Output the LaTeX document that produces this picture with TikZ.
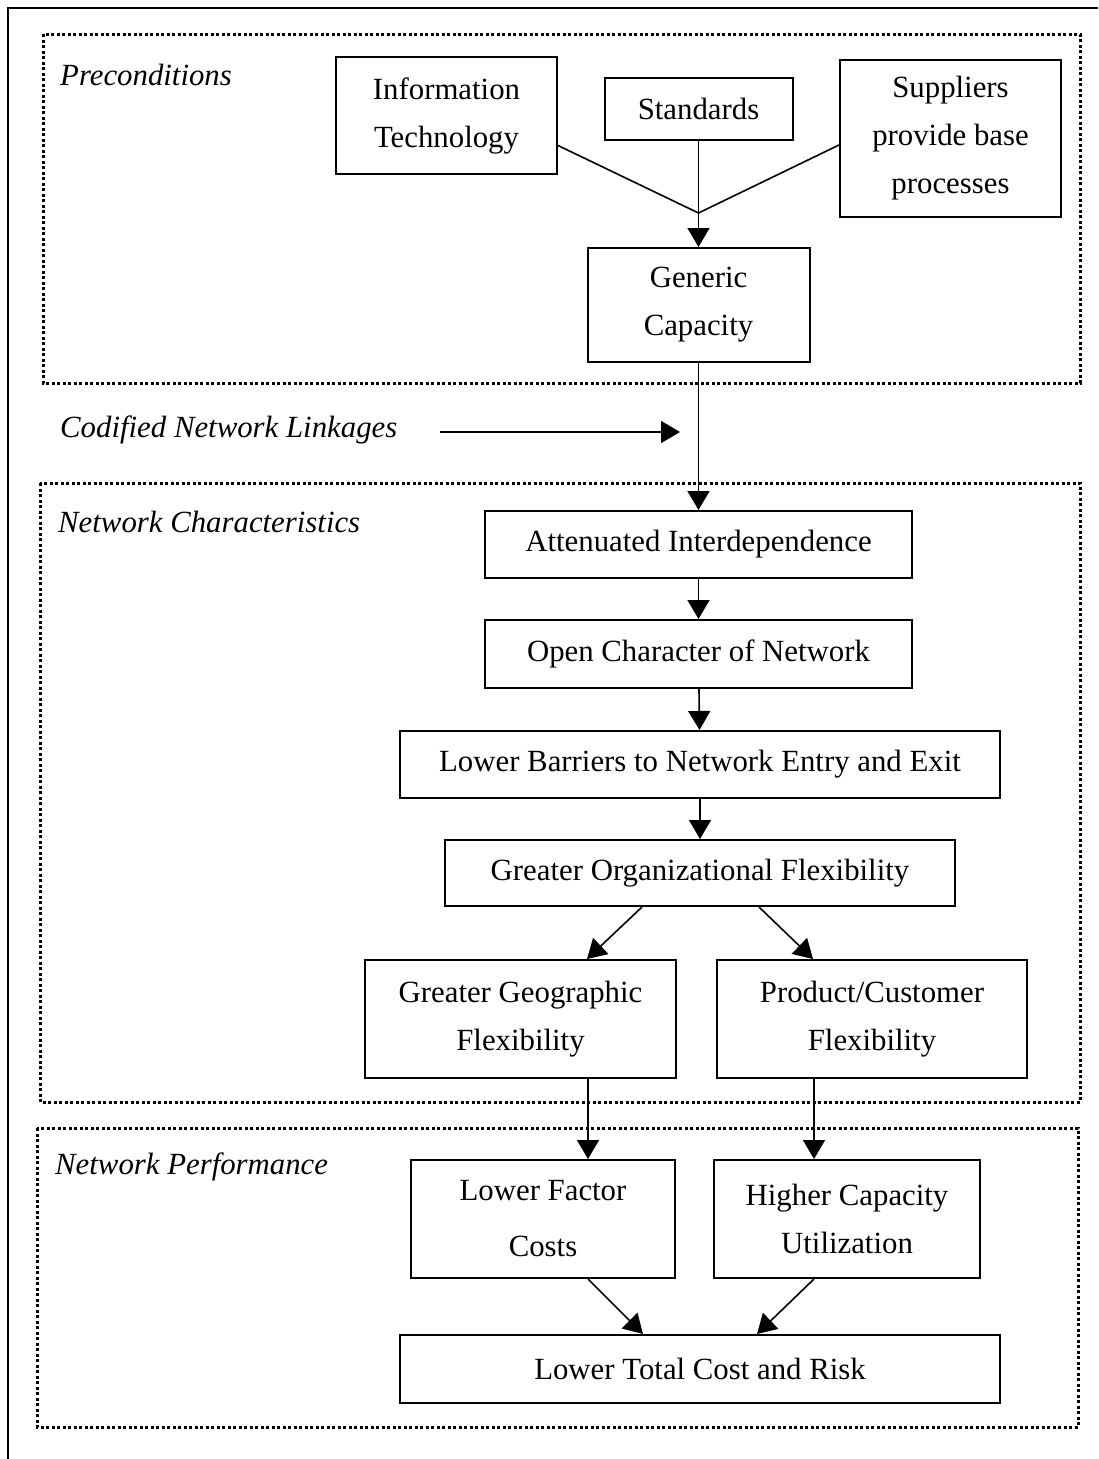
\documentclass[tikz,border=0pt]{standalone}
\usepackage{fontspec}
\setmainfont{Liberation Serif}
\usetikzlibrary{arrows.meta,calc}

\begin{document}
\begin{tikzpicture}
  [x=1pt,y=-1pt,
   every node/.style={font=\fontsize{30.8}{48}\selectfont},
   box/.style={draw,line width=2pt,align=center,inner sep=0pt},
   lbl/.style={font=\fontsize{30.8}{48}\selectfont\itshape,anchor=west,inner sep=0pt},
   dotbox/.style={line width=3pt,dash pattern=on 3pt off 2.5pt},
   ln/.style={line width=1.6pt},
   arr/.style={line width=1.6pt,-{Triangle[length=19pt,width=22pt]}}]
  \useasboundingbox (0,0) rectangle (1098,1459);

  % frame and groups
  \draw[line width=2pt] (1098,8) -- (8,8) -- (8,1459);
  \draw[dotbox] (43,34) rectangle (1080,383);
  \draw[dotbox] (40,483) rectangle (1080,1102);
  \draw[dotbox] (37,1128) rectangle (1078,1427);

  \node[lbl] (pre) at (60,75) {Preconditions};
  \node[lbl] (nch) at (58,522) {Network Characteristics};
  \node[lbl] (npf) at (55,1167) {Network Performance};
  \node[lbl] (cnl) at (60,430) {Codified Network Linkages};

  % preconditions
  \node[box,minimum width=221pt,minimum height=117pt] (it) at (446.5,115.5) {Information\\Technology};
  \node[box,minimum width=188pt,minimum height=62pt] (std) at (698.5,109) {Standards};
  \node[box,minimum width=221pt,minimum height=157pt] (sup) at (950.5,138) {Suppliers\\provide base\\processes};
  \node[box,minimum width=222pt,minimum height=114pt] (gc) at (698.5,305) {Generic\\Capacity};
  \coordinate (j) at (698.5,213);

  % characteristics
  \node[box,minimum width=427pt,minimum height=67pt] (ai) at (698.5,544.5) {Attenuated Interdependence};
  \node[box,minimum width=427pt,minimum height=68pt] (oc) at (698.5,654) {Open Character of Network};
  \node[box,minimum width=600pt,minimum height=67pt] (lb) at (700,764.5) {Lower Barriers to Network Entry and Exit};
  \node[box,minimum width=510pt,minimum height=66pt] (go) at (700,873) {Greater Organizational Flexibility};
  \node[box,minimum width=311pt,minimum height=118pt] (gg) at (520.5,1019) {Greater Geographic\\Flexibility};
  \node[box,minimum width=310pt,minimum height=118pt] (pc) at (872,1019) {Product/Customer\\Flexibility};

  % performance
  \node[box,minimum width=264pt,minimum height=118pt] (lf) at (543,1219) {Lower Factor\\[8pt]Costs};
  \node[box,minimum width=266pt,minimum height=118pt] (hc) at (847,1219) {Higher Capacity\\Utilization};
  \node[box,minimum width=600pt,minimum height=68pt] (lt) at (700,1369) {Lower Total Cost and Risk};

  % connectors
  \draw[ln] ($(it.east)+(0,30)$) -- (j);
  \draw[ln] ($(sup.west)+(0,7)$) -- (j);
  \draw[ln] (std.south) -- (j);
  \draw[arr] (j) -- (gc.north);
  \coordinate (cnlend) at (680,432);
  \draw[arr] ($(cnl.east)+(43,2)$) -- (cnlend);
  \draw[arr] (gc.south) -- (ai.north);
  \draw[arr] (ai) -- (oc);
  \draw[arr] (oc) -- (lb);
  \draw[arr] (lb) -- (go);
  \draw[arr] ($(go.south)+(-58,0)$) -- ($(gg.north)+(66.5,0)$);
  \draw[arr] ($(go.south)+(59,0)$) -- ($(pc.north)+(-59,0)$);
  \draw[arr] ($(gg.south)+(67.5,0)$) -- ($(lf.north)+(45,0)$);
  \draw[arr] ($(pc.south)+(-58,0)$) -- ($(hc.north)+(-33,0)$);
  \draw[arr] ($(lf.south)+(45,0)$) -- ($(lt.north)+(-57,0)$);
  \draw[arr] ($(hc.south)+(-33,0)$) -- ($(lt.north)+(57,0)$);

\end{tikzpicture}
\end{document}
